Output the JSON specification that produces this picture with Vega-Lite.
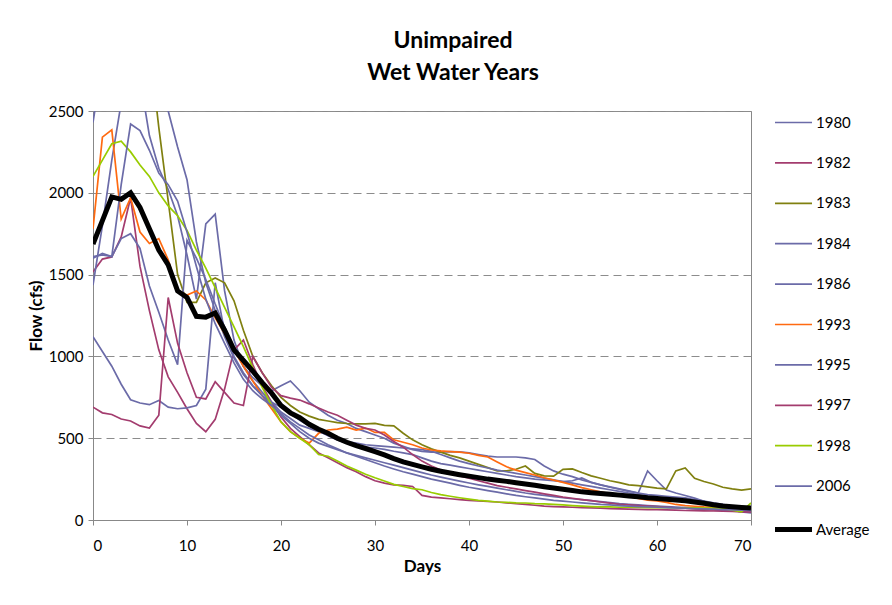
{
"$schema":"https://vega.github.io/schema/vega-lite/v6.json",
"width":658,"height":409,
"autosize":{"type":"none"},
"padding":{"left":93,"top":111,"right":141,"bottom":85},
"background":"white",
"title":{"text":["Unimpaired","Wet Water Years"],"anchor":"middle","dx":31,"offset":19,"fontSize":23,"font":"Lato","fontWeight":"bold","lineHeight":32,"color":"black"},
"data":{"values":[
{"s":"1980","d":0,"v":2430},{"s":"1980","d":1,"v":2800},{"s":"1980","d":2,"v":3000},{"s":"1980","d":3,"v":3100},{"s":"1980","d":4,"v":3000},{"s":"1980","d":5,"v":2700},{"s":"1980","d":6,"v":2350},{"s":"1980","d":7,"v":2150},{"s":"1980","d":8,"v":2020},{"s":"1980","d":9,"v":1860},
{"s":"1980","d":10,"v":1620},{"s":"1980","d":11,"v":1350},{"s":"1980","d":12,"v":1810},{"s":"1980","d":13,"v":1870},{"s":"1980","d":14,"v":1400},{"s":"1980","d":15,"v":1100},{"s":"1980","d":16,"v":940},{"s":"1980","d":17,"v":870},{"s":"1980","d":18,"v":820},{"s":"1980","d":19,"v":790},
{"s":"1980","d":20,"v":820},{"s":"1980","d":21,"v":850},{"s":"1980","d":22,"v":790},{"s":"1980","d":23,"v":720},{"s":"1980","d":24,"v":680},{"s":"1980","d":25,"v":640},{"s":"1980","d":26,"v":610},{"s":"1980","d":27,"v":590},{"s":"1980","d":28,"v":560},{"s":"1980","d":29,"v":540},
{"s":"1980","d":30,"v":520},{"s":"1980","d":31,"v":500},{"s":"1980","d":32,"v":470},{"s":"1980","d":33,"v":450},{"s":"1980","d":34,"v":430},{"s":"1980","d":35,"v":420},{"s":"1980","d":36,"v":415},{"s":"1980","d":37,"v":415},{"s":"1980","d":38,"v":418},{"s":"1980","d":39,"v":416},
{"s":"1980","d":40,"v":410},{"s":"1980","d":41,"v":400},{"s":"1980","d":42,"v":390},{"s":"1980","d":43,"v":385},{"s":"1980","d":44,"v":385},{"s":"1980","d":45,"v":385},{"s":"1980","d":46,"v":380},{"s":"1980","d":47,"v":370},{"s":"1980","d":48,"v":330},{"s":"1980","d":49,"v":300},
{"s":"1980","d":50,"v":280},{"s":"1980","d":51,"v":265},{"s":"1980","d":52,"v":245},{"s":"1980","d":53,"v":230},{"s":"1980","d":54,"v":215},{"s":"1980","d":55,"v":202},{"s":"1980","d":56,"v":190},{"s":"1980","d":57,"v":178},{"s":"1980","d":58,"v":165},{"s":"1980","d":59,"v":300},
{"s":"1980","d":60,"v":240},{"s":"1980","d":61,"v":183},{"s":"1980","d":62,"v":165},{"s":"1980","d":63,"v":150},{"s":"1980","d":64,"v":134},{"s":"1980","d":65,"v":115},{"s":"1980","d":66,"v":95},{"s":"1980","d":67,"v":73},{"s":"1980","d":68,"v":60},{"s":"1980","d":69,"v":50},{"s":"1980","d":70,"v":43},
{"s":"1982","d":0,"v":1516},{"s":"1982","d":1,"v":1595},{"s":"1982","d":2,"v":1608},{"s":"1982","d":3,"v":1730},{"s":"1982","d":4,"v":1970},{"s":"1982","d":5,"v":1550},{"s":"1982","d":6,"v":1280},{"s":"1982","d":7,"v":1040},{"s":"1982","d":8,"v":875},{"s":"1982","d":9,"v":780},
{"s":"1982","d":10,"v":680},{"s":"1982","d":11,"v":590},{"s":"1982","d":12,"v":540},{"s":"1982","d":13,"v":615},{"s":"1982","d":14,"v":800},{"s":"1982","d":15,"v":1040},{"s":"1982","d":16,"v":1100},{"s":"1982","d":17,"v":950},{"s":"1982","d":18,"v":820},{"s":"1982","d":19,"v":720},
{"s":"1982","d":20,"v":630},{"s":"1982","d":21,"v":560},{"s":"1982","d":22,"v":510},{"s":"1982","d":23,"v":460},{"s":"1982","d":24,"v":410},{"s":"1982","d":25,"v":380},{"s":"1982","d":26,"v":350},{"s":"1982","d":27,"v":320},{"s":"1982","d":28,"v":295},{"s":"1982","d":29,"v":265},
{"s":"1982","d":30,"v":240},{"s":"1982","d":31,"v":225},{"s":"1982","d":32,"v":215},{"s":"1982","d":33,"v":212},{"s":"1982","d":34,"v":205},{"s":"1982","d":35,"v":150},{"s":"1982","d":36,"v":140},{"s":"1982","d":37,"v":135},{"s":"1982","d":38,"v":130},{"s":"1982","d":39,"v":125},
{"s":"1982","d":40,"v":120},{"s":"1982","d":41,"v":117},{"s":"1982","d":42,"v":113},{"s":"1982","d":43,"v":110},{"s":"1982","d":44,"v":105},{"s":"1982","d":45,"v":100},{"s":"1982","d":46,"v":95},{"s":"1982","d":47,"v":90},{"s":"1982","d":48,"v":85},{"s":"1982","d":49,"v":82},
{"s":"1982","d":50,"v":80},{"s":"1982","d":51,"v":78},{"s":"1982","d":52,"v":76},{"s":"1982","d":53,"v":74},{"s":"1982","d":54,"v":72},{"s":"1982","d":55,"v":70},{"s":"1982","d":56,"v":68},{"s":"1982","d":57,"v":66},{"s":"1982","d":58,"v":65},{"s":"1982","d":59,"v":64},
{"s":"1982","d":60,"v":63},{"s":"1982","d":61,"v":62},{"s":"1982","d":62,"v":60},{"s":"1982","d":63,"v":58},{"s":"1982","d":64,"v":57},{"s":"1982","d":65,"v":56},{"s":"1982","d":66,"v":55},{"s":"1982","d":67,"v":54},{"s":"1982","d":68,"v":52},{"s":"1982","d":69,"v":50},{"s":"1982","d":70,"v":50},
{"s":"1983","d":0,"v":3200},{"s":"1983","d":1,"v":3600},{"s":"1983","d":2,"v":3900},{"s":"1983","d":3,"v":4000},{"s":"1983","d":4,"v":3800},{"s":"1983","d":5,"v":3400},{"s":"1983","d":6,"v":2900},{"s":"1983","d":7,"v":2400},{"s":"1983","d":8,"v":1950},{"s":"1983","d":9,"v":1500},
{"s":"1983","d":10,"v":1330},{"s":"1983","d":11,"v":1330},{"s":"1983","d":12,"v":1450},{"s":"1983","d":13,"v":1480},{"s":"1983","d":14,"v":1450},{"s":"1983","d":15,"v":1340},{"s":"1983","d":16,"v":1160},{"s":"1983","d":17,"v":1000},{"s":"1983","d":18,"v":900},{"s":"1983","d":19,"v":820},
{"s":"1983","d":20,"v":750},{"s":"1983","d":21,"v":700},{"s":"1983","d":22,"v":660},{"s":"1983","d":23,"v":635},{"s":"1983","d":24,"v":615},{"s":"1983","d":25,"v":605},{"s":"1983","d":26,"v":595},{"s":"1983","d":27,"v":590},{"s":"1983","d":28,"v":588},{"s":"1983","d":29,"v":587},
{"s":"1983","d":30,"v":590},{"s":"1983","d":31,"v":578},{"s":"1983","d":32,"v":575},{"s":"1983","d":33,"v":530},{"s":"1983","d":34,"v":490},{"s":"1983","d":35,"v":460},{"s":"1983","d":36,"v":435},{"s":"1983","d":37,"v":415},{"s":"1983","d":38,"v":395},{"s":"1983","d":39,"v":380},
{"s":"1983","d":40,"v":360},{"s":"1983","d":41,"v":340},{"s":"1983","d":42,"v":320},{"s":"1983","d":43,"v":300},{"s":"1983","d":44,"v":300},{"s":"1983","d":45,"v":310},{"s":"1983","d":46,"v":330},{"s":"1983","d":47,"v":285},{"s":"1983","d":48,"v":270},{"s":"1983","d":49,"v":268},
{"s":"1983","d":50,"v":310},{"s":"1983","d":51,"v":312},{"s":"1983","d":52,"v":290},{"s":"1983","d":53,"v":270},{"s":"1983","d":54,"v":255},{"s":"1983","d":55,"v":240},{"s":"1983","d":56,"v":228},{"s":"1983","d":57,"v":215},{"s":"1983","d":58,"v":210},{"s":"1983","d":59,"v":203},
{"s":"1983","d":60,"v":195},{"s":"1983","d":61,"v":190},{"s":"1983","d":62,"v":300},{"s":"1983","d":63,"v":318},{"s":"1983","d":64,"v":255},{"s":"1983","d":65,"v":235},{"s":"1983","d":66,"v":220},{"s":"1983","d":67,"v":200},{"s":"1983","d":68,"v":190},{"s":"1983","d":69,"v":183},{"s":"1983","d":70,"v":190},
{"s":"1984","d":0,"v":1436},{"s":"1984","d":1,"v":1800},{"s":"1984","d":2,"v":2200},{"s":"1984","d":3,"v":2550},{"s":"1984","d":4,"v":2800},{"s":"1984","d":5,"v":3000},{"s":"1984","d":6,"v":3000},{"s":"1984","d":7,"v":2800},{"s":"1984","d":8,"v":2500},{"s":"1984","d":9,"v":2280},
{"s":"1984","d":10,"v":2080},{"s":"1984","d":11,"v":1700},{"s":"1984","d":12,"v":1450},{"s":"1984","d":13,"v":1280},{"s":"1984","d":14,"v":1120},{"s":"1984","d":15,"v":990},{"s":"1984","d":16,"v":890},{"s":"1984","d":17,"v":820},{"s":"1984","d":18,"v":760},{"s":"1984","d":19,"v":720},
{"s":"1984","d":20,"v":690},{"s":"1984","d":21,"v":650},{"s":"1984","d":22,"v":610},{"s":"1984","d":23,"v":575},{"s":"1984","d":24,"v":545},{"s":"1984","d":25,"v":515},{"s":"1984","d":26,"v":490},{"s":"1984","d":27,"v":470},{"s":"1984","d":28,"v":455},{"s":"1984","d":29,"v":445},
{"s":"1984","d":30,"v":440},{"s":"1984","d":31,"v":432},{"s":"1984","d":32,"v":420},{"s":"1984","d":33,"v":410},{"s":"1984","d":34,"v":400},{"s":"1984","d":35,"v":380},{"s":"1984","d":36,"v":360},{"s":"1984","d":37,"v":345},{"s":"1984","d":38,"v":335},{"s":"1984","d":39,"v":325},
{"s":"1984","d":40,"v":315},{"s":"1984","d":41,"v":305},{"s":"1984","d":42,"v":295},{"s":"1984","d":43,"v":285},{"s":"1984","d":44,"v":275},{"s":"1984","d":45,"v":265},{"s":"1984","d":46,"v":258},{"s":"1984","d":47,"v":250},{"s":"1984","d":48,"v":245},{"s":"1984","d":49,"v":240},
{"s":"1984","d":50,"v":235},{"s":"1984","d":51,"v":240},{"s":"1984","d":52,"v":257},{"s":"1984","d":53,"v":230},{"s":"1984","d":54,"v":215},{"s":"1984","d":55,"v":200},{"s":"1984","d":56,"v":188},{"s":"1984","d":57,"v":175},{"s":"1984","d":58,"v":165},{"s":"1984","d":59,"v":155},
{"s":"1984","d":60,"v":150},{"s":"1984","d":61,"v":145},{"s":"1984","d":62,"v":140},{"s":"1984","d":63,"v":135},{"s":"1984","d":64,"v":125},{"s":"1984","d":65,"v":115},{"s":"1984","d":66,"v":105},{"s":"1984","d":67,"v":95},{"s":"1984","d":68,"v":85},{"s":"1984","d":69,"v":75},{"s":"1984","d":70,"v":70},
{"s":"1986","d":0,"v":1600},{"s":"1986","d":1,"v":1630},{"s":"1986","d":2,"v":1610},{"s":"1986","d":3,"v":1720},{"s":"1986","d":4,"v":1750},{"s":"1986","d":5,"v":1660},{"s":"1986","d":6,"v":1430},{"s":"1986","d":7,"v":1270},{"s":"1986","d":8,"v":1100},{"s":"1986","d":9,"v":950},
{"s":"1986","d":10,"v":1710},{"s":"1986","d":11,"v":1600},{"s":"1986","d":12,"v":1470},{"s":"1986","d":13,"v":1320},{"s":"1986","d":14,"v":1180},{"s":"1986","d":15,"v":1050},{"s":"1986","d":16,"v":940},{"s":"1986","d":17,"v":850},{"s":"1986","d":18,"v":780},{"s":"1986","d":19,"v":720},
{"s":"1986","d":20,"v":660},{"s":"1986","d":21,"v":620},{"s":"1986","d":22,"v":580},{"s":"1986","d":23,"v":560},{"s":"1986","d":24,"v":540},{"s":"1986","d":25,"v":520},{"s":"1986","d":26,"v":500},{"s":"1986","d":27,"v":480},{"s":"1986","d":28,"v":470},{"s":"1986","d":29,"v":460},
{"s":"1986","d":30,"v":455},{"s":"1986","d":31,"v":450},{"s":"1986","d":32,"v":445},{"s":"1986","d":33,"v":440},{"s":"1986","d":34,"v":435},{"s":"1986","d":35,"v":430},{"s":"1986","d":36,"v":420},{"s":"1986","d":37,"v":400},{"s":"1986","d":38,"v":380},{"s":"1986","d":39,"v":360},
{"s":"1986","d":40,"v":345},{"s":"1986","d":41,"v":330},{"s":"1986","d":42,"v":318},{"s":"1986","d":43,"v":305},{"s":"1986","d":44,"v":295},{"s":"1986","d":45,"v":285},{"s":"1986","d":46,"v":275},{"s":"1986","d":47,"v":265},{"s":"1986","d":48,"v":255},{"s":"1986","d":49,"v":245},
{"s":"1986","d":50,"v":235},{"s":"1986","d":51,"v":225},{"s":"1986","d":52,"v":215},{"s":"1986","d":53,"v":205},{"s":"1986","d":54,"v":195},{"s":"1986","d":55,"v":185},{"s":"1986","d":56,"v":175},{"s":"1986","d":57,"v":165},{"s":"1986","d":58,"v":155},{"s":"1986","d":59,"v":145},
{"s":"1986","d":60,"v":135},{"s":"1986","d":61,"v":128},{"s":"1986","d":62,"v":120},{"s":"1986","d":63,"v":112},{"s":"1986","d":64,"v":105},{"s":"1986","d":65,"v":98},{"s":"1986","d":66,"v":92},{"s":"1986","d":67,"v":86},{"s":"1986","d":68,"v":80},{"s":"1986","d":69,"v":75},{"s":"1986","d":70,"v":70},
{"s":"1993","d":0,"v":1780},{"s":"1993","d":1,"v":2340},{"s":"1993","d":2,"v":2385},{"s":"1993","d":3,"v":1840},{"s":"1993","d":4,"v":1970},{"s":"1993","d":5,"v":1760},{"s":"1993","d":6,"v":1690},{"s":"1993","d":7,"v":1720},{"s":"1993","d":8,"v":1590},{"s":"1993","d":9,"v":1400},
{"s":"1993","d":10,"v":1375},{"s":"1993","d":11,"v":1400},{"s":"1993","d":12,"v":1345},{"s":"1993","d":13,"v":1235},{"s":"1993","d":14,"v":1140},{"s":"1993","d":15,"v":1040},{"s":"1993","d":16,"v":940},{"s":"1993","d":17,"v":850},{"s":"1993","d":18,"v":760},{"s":"1993","d":19,"v":680},
{"s":"1993","d":20,"v":600},{"s":"1993","d":21,"v":540},{"s":"1993","d":22,"v":500},{"s":"1993","d":23,"v":470},{"s":"1993","d":24,"v":530},{"s":"1993","d":25,"v":550},{"s":"1993","d":26,"v":555},{"s":"1993","d":27,"v":568},{"s":"1993","d":28,"v":550},{"s":"1993","d":29,"v":562},
{"s":"1993","d":30,"v":535},{"s":"1993","d":31,"v":535},{"s":"1993","d":32,"v":490},{"s":"1993","d":33,"v":475},{"s":"1993","d":34,"v":460},{"s":"1993","d":35,"v":440},{"s":"1993","d":36,"v":428},{"s":"1993","d":37,"v":422},{"s":"1993","d":38,"v":418},{"s":"1993","d":39,"v":415},
{"s":"1993","d":40,"v":408},{"s":"1993","d":41,"v":395},{"s":"1993","d":42,"v":385},{"s":"1993","d":43,"v":355},{"s":"1993","d":44,"v":325},{"s":"1993","d":45,"v":305},{"s":"1993","d":46,"v":290},{"s":"1993","d":47,"v":275},{"s":"1993","d":48,"v":258},{"s":"1993","d":49,"v":244},
{"s":"1993","d":50,"v":230},{"s":"1993","d":51,"v":215},{"s":"1993","d":52,"v":198},{"s":"1993","d":53,"v":185},{"s":"1993","d":54,"v":172},{"s":"1993","d":55,"v":160},{"s":"1993","d":56,"v":153},{"s":"1993","d":57,"v":142},{"s":"1993","d":58,"v":132},{"s":"1993","d":59,"v":122},
{"s":"1993","d":60,"v":116},{"s":"1993","d":61,"v":108},{"s":"1993","d":62,"v":95},{"s":"1993","d":63,"v":88},{"s":"1993","d":64,"v":84},{"s":"1993","d":65,"v":80},{"s":"1993","d":66,"v":78},{"s":"1993","d":67,"v":76},{"s":"1993","d":68,"v":75},{"s":"1993","d":69,"v":74},{"s":"1993","d":70,"v":73},
{"s":"1995","d":0,"v":1120},{"s":"1995","d":1,"v":1030},{"s":"1995","d":2,"v":940},{"s":"1995","d":3,"v":830},{"s":"1995","d":4,"v":735},{"s":"1995","d":5,"v":715},{"s":"1995","d":6,"v":705},{"s":"1995","d":7,"v":730},{"s":"1995","d":8,"v":690},{"s":"1995","d":9,"v":680},
{"s":"1995","d":10,"v":685},{"s":"1995","d":11,"v":700},{"s":"1995","d":12,"v":800},{"s":"1995","d":13,"v":1450},{"s":"1995","d":14,"v":1150},{"s":"1995","d":15,"v":1000},{"s":"1995","d":16,"v":900},{"s":"1995","d":17,"v":820},{"s":"1995","d":18,"v":760},{"s":"1995","d":19,"v":700},
{"s":"1995","d":20,"v":640},{"s":"1995","d":21,"v":590},{"s":"1995","d":22,"v":540},{"s":"1995","d":23,"v":500},{"s":"1995","d":24,"v":470},{"s":"1995","d":25,"v":450},{"s":"1995","d":26,"v":430},{"s":"1995","d":27,"v":410},{"s":"1995","d":28,"v":395},{"s":"1995","d":29,"v":380},
{"s":"1995","d":30,"v":365},{"s":"1995","d":31,"v":350},{"s":"1995","d":32,"v":335},{"s":"1995","d":33,"v":320},{"s":"1995","d":34,"v":305},{"s":"1995","d":35,"v":290},{"s":"1995","d":36,"v":275},{"s":"1995","d":37,"v":262},{"s":"1995","d":38,"v":250},{"s":"1995","d":39,"v":238},
{"s":"1995","d":40,"v":226},{"s":"1995","d":41,"v":215},{"s":"1995","d":42,"v":205},{"s":"1995","d":43,"v":195},{"s":"1995","d":44,"v":185},{"s":"1995","d":45,"v":175},{"s":"1995","d":46,"v":165},{"s":"1995","d":47,"v":157},{"s":"1995","d":48,"v":150},{"s":"1995","d":49,"v":143},
{"s":"1995","d":50,"v":136},{"s":"1995","d":51,"v":130},{"s":"1995","d":52,"v":124},{"s":"1995","d":53,"v":118},{"s":"1995","d":54,"v":112},{"s":"1995","d":55,"v":106},{"s":"1995","d":56,"v":100},{"s":"1995","d":57,"v":96},{"s":"1995","d":58,"v":92},{"s":"1995","d":59,"v":88},
{"s":"1995","d":60,"v":85},{"s":"1995","d":61,"v":82},{"s":"1995","d":62,"v":79},{"s":"1995","d":63,"v":76},{"s":"1995","d":64,"v":73},{"s":"1995","d":65,"v":70},{"s":"1995","d":66,"v":67},{"s":"1995","d":67,"v":64},{"s":"1995","d":68,"v":60},{"s":"1995","d":69,"v":55},{"s":"1995","d":70,"v":52},
{"s":"1997","d":0,"v":690},{"s":"1997","d":1,"v":655},{"s":"1997","d":2,"v":645},{"s":"1997","d":3,"v":617},{"s":"1997","d":4,"v":605},{"s":"1997","d":5,"v":575},{"s":"1997","d":6,"v":562},{"s":"1997","d":7,"v":640},{"s":"1997","d":8,"v":1360},{"s":"1997","d":9,"v":1080},
{"s":"1997","d":10,"v":900},{"s":"1997","d":11,"v":750},{"s":"1997","d":12,"v":740},{"s":"1997","d":13,"v":845},{"s":"1997","d":14,"v":780},{"s":"1997","d":15,"v":715},{"s":"1997","d":16,"v":700},{"s":"1997","d":17,"v":1000},{"s":"1997","d":18,"v":900},{"s":"1997","d":19,"v":810},
{"s":"1997","d":20,"v":760},{"s":"1997","d":21,"v":745},{"s":"1997","d":22,"v":733},{"s":"1997","d":23,"v":710},{"s":"1997","d":24,"v":685},{"s":"1997","d":25,"v":660},{"s":"1997","d":26,"v":640},{"s":"1997","d":27,"v":610},{"s":"1997","d":28,"v":580},{"s":"1997","d":29,"v":560},
{"s":"1997","d":30,"v":550},{"s":"1997","d":31,"v":520},{"s":"1997","d":32,"v":480},{"s":"1997","d":33,"v":445},{"s":"1997","d":34,"v":400},{"s":"1997","d":35,"v":360},{"s":"1997","d":36,"v":330},{"s":"1997","d":37,"v":305},{"s":"1997","d":38,"v":285},{"s":"1997","d":39,"v":270},
{"s":"1997","d":40,"v":255},{"s":"1997","d":41,"v":240},{"s":"1997","d":42,"v":225},{"s":"1997","d":43,"v":210},{"s":"1997","d":44,"v":200},{"s":"1997","d":45,"v":190},{"s":"1997","d":46,"v":180},{"s":"1997","d":47,"v":170},{"s":"1997","d":48,"v":160},{"s":"1997","d":49,"v":150},
{"s":"1997","d":50,"v":140},{"s":"1997","d":51,"v":133},{"s":"1997","d":52,"v":125},{"s":"1997","d":53,"v":118},{"s":"1997","d":54,"v":110},{"s":"1997","d":55,"v":103},{"s":"1997","d":56,"v":95},{"s":"1997","d":57,"v":92},{"s":"1997","d":58,"v":88},{"s":"1997","d":59,"v":85},
{"s":"1997","d":60,"v":82},{"s":"1997","d":61,"v":78},{"s":"1997","d":62,"v":75},{"s":"1997","d":63,"v":72},{"s":"1997","d":64,"v":68},{"s":"1997","d":65,"v":65},{"s":"1997","d":66,"v":62},{"s":"1997","d":67,"v":58},{"s":"1997","d":68,"v":55},{"s":"1997","d":69,"v":52},{"s":"1997","d":70,"v":49},
{"s":"1998","d":0,"v":2100},{"s":"1998","d":1,"v":2200},{"s":"1998","d":2,"v":2300},{"s":"1998","d":3,"v":2316},{"s":"1998","d":4,"v":2250},{"s":"1998","d":5,"v":2170},{"s":"1998","d":6,"v":2100},{"s":"1998","d":7,"v":2000},{"s":"1998","d":8,"v":1920},{"s":"1998","d":9,"v":1860},
{"s":"1998","d":10,"v":1770},{"s":"1998","d":11,"v":1650},{"s":"1998","d":12,"v":1540},{"s":"1998","d":13,"v":1420},{"s":"1998","d":14,"v":1300},{"s":"1998","d":15,"v":1180},{"s":"1998","d":16,"v":1060},{"s":"1998","d":17,"v":930},{"s":"1998","d":18,"v":810},{"s":"1998","d":19,"v":700},
{"s":"1998","d":20,"v":600},{"s":"1998","d":21,"v":540},{"s":"1998","d":22,"v":500},{"s":"1998","d":23,"v":460},{"s":"1998","d":24,"v":400},{"s":"1998","d":25,"v":390},{"s":"1998","d":26,"v":360},{"s":"1998","d":27,"v":330},{"s":"1998","d":28,"v":305},{"s":"1998","d":29,"v":280},
{"s":"1998","d":30,"v":258},{"s":"1998","d":31,"v":238},{"s":"1998","d":32,"v":218},{"s":"1998","d":33,"v":205},{"s":"1998","d":34,"v":192},{"s":"1998","d":35,"v":185},{"s":"1998","d":36,"v":168},{"s":"1998","d":37,"v":155},{"s":"1998","d":38,"v":145},{"s":"1998","d":39,"v":136},
{"s":"1998","d":40,"v":128},{"s":"1998","d":41,"v":120},{"s":"1998","d":42,"v":115},{"s":"1998","d":43,"v":110},{"s":"1998","d":44,"v":108},{"s":"1998","d":45,"v":105},{"s":"1998","d":46,"v":104},{"s":"1998","d":47,"v":100},{"s":"1998","d":48,"v":98},{"s":"1998","d":49,"v":95},
{"s":"1998","d":50,"v":92},{"s":"1998","d":51,"v":88},{"s":"1998","d":52,"v":85},{"s":"1998","d":53,"v":82},{"s":"1998","d":54,"v":80},{"s":"1998","d":55,"v":80},{"s":"1998","d":56,"v":78},{"s":"1998","d":57,"v":78},{"s":"1998","d":58,"v":77},{"s":"1998","d":59,"v":76},
{"s":"1998","d":60,"v":76},{"s":"1998","d":61,"v":75},{"s":"1998","d":62,"v":75},{"s":"1998","d":63,"v":74},{"s":"1998","d":64,"v":74},{"s":"1998","d":65,"v":73},{"s":"1998","d":66,"v":73},{"s":"1998","d":67,"v":70},{"s":"1998","d":68,"v":60},{"s":"1998","d":69,"v":50},{"s":"1998","d":70,"v":104},
{"s":"2006","d":0,"v":1610},{"s":"2006","d":1,"v":1620},{"s":"2006","d":2,"v":1610},{"s":"2006","d":3,"v":2050},{"s":"2006","d":4,"v":2420},{"s":"2006","d":5,"v":2380},{"s":"2006","d":6,"v":2260},{"s":"2006","d":7,"v":2120},{"s":"2006","d":8,"v":2050},{"s":"2006","d":9,"v":1950},
{"s":"2006","d":10,"v":1760},{"s":"2006","d":11,"v":1550},{"s":"2006","d":12,"v":1350},{"s":"2006","d":13,"v":1200},{"s":"2006","d":14,"v":1080},{"s":"2006","d":15,"v":960},{"s":"2006","d":16,"v":860},{"s":"2006","d":17,"v":790},{"s":"2006","d":18,"v":740},{"s":"2006","d":19,"v":700},
{"s":"2006","d":20,"v":650},{"s":"2006","d":21,"v":600},{"s":"2006","d":22,"v":560},{"s":"2006","d":23,"v":520},{"s":"2006","d":24,"v":490},{"s":"2006","d":25,"v":460},{"s":"2006","d":26,"v":435},{"s":"2006","d":27,"v":410},{"s":"2006","d":28,"v":390},{"s":"2006","d":29,"v":370},
{"s":"2006","d":30,"v":350},{"s":"2006","d":31,"v":330},{"s":"2006","d":32,"v":312},{"s":"2006","d":33,"v":295},{"s":"2006","d":34,"v":280},{"s":"2006","d":35,"v":265},{"s":"2006","d":36,"v":250},{"s":"2006","d":37,"v":238},{"s":"2006","d":38,"v":225},{"s":"2006","d":39,"v":212},
{"s":"2006","d":40,"v":200},{"s":"2006","d":41,"v":190},{"s":"2006","d":42,"v":180},{"s":"2006","d":43,"v":170},{"s":"2006","d":44,"v":160},{"s":"2006","d":45,"v":150},{"s":"2006","d":46,"v":142},{"s":"2006","d":47,"v":135},{"s":"2006","d":48,"v":128},{"s":"2006","d":49,"v":120},
{"s":"2006","d":50,"v":115},{"s":"2006","d":51,"v":110},{"s":"2006","d":52,"v":105},{"s":"2006","d":53,"v":100},{"s":"2006","d":54,"v":95},{"s":"2006","d":55,"v":92},{"s":"2006","d":56,"v":88},{"s":"2006","d":57,"v":85},{"s":"2006","d":58,"v":82},{"s":"2006","d":59,"v":80},
{"s":"2006","d":60,"v":78},{"s":"2006","d":61,"v":76},{"s":"2006","d":62,"v":74},{"s":"2006","d":63,"v":72},{"s":"2006","d":64,"v":70},{"s":"2006","d":65,"v":68},{"s":"2006","d":66,"v":66},{"s":"2006","d":67,"v":64},{"s":"2006","d":68,"v":62},{"s":"2006","d":69,"v":60},{"s":"2006","d":70,"v":58},
{"s":"Average","d":0,"v":1687},{"s":"Average","d":1,"v":1830},{"s":"Average","d":2,"v":1975},{"s":"Average","d":3,"v":1960},{"s":"Average","d":4,"v":2000},{"s":"Average","d":5,"v":1910},{"s":"Average","d":6,"v":1780},{"s":"Average","d":7,"v":1650},{"s":"Average","d":8,"v":1560},{"s":"Average","d":9,"v":1400},
{"s":"Average","d":10,"v":1360},{"s":"Average","d":11,"v":1245},{"s":"Average","d":12,"v":1240},{"s":"Average","d":13,"v":1265},{"s":"Average","d":14,"v":1160},{"s":"Average","d":15,"v":1040},{"s":"Average","d":16,"v":975},{"s":"Average","d":17,"v":910},{"s":"Average","d":18,"v":840},{"s":"Average","d":19,"v":775},
{"s":"Average","d":20,"v":700},{"s":"Average","d":21,"v":655},{"s":"Average","d":22,"v":625},{"s":"Average","d":23,"v":585},{"s":"Average","d":24,"v":555},{"s":"Average","d":25,"v":530},{"s":"Average","d":26,"v":500},{"s":"Average","d":27,"v":475},{"s":"Average","d":28,"v":455},{"s":"Average","d":29,"v":437},
{"s":"Average","d":30,"v":418},{"s":"Average","d":31,"v":398},{"s":"Average","d":32,"v":375},{"s":"Average","d":33,"v":355},{"s":"Average","d":34,"v":340},{"s":"Average","d":35,"v":325},{"s":"Average","d":36,"v":310},{"s":"Average","d":37,"v":298},{"s":"Average","d":38,"v":287},{"s":"Average","d":39,"v":277},
{"s":"Average","d":40,"v":268},{"s":"Average","d":41,"v":259},{"s":"Average","d":42,"v":250},{"s":"Average","d":43,"v":243},{"s":"Average","d":44,"v":236},{"s":"Average","d":45,"v":228},{"s":"Average","d":46,"v":220},{"s":"Average","d":47,"v":212},{"s":"Average","d":48,"v":203},{"s":"Average","d":49,"v":195},
{"s":"Average","d":50,"v":188},{"s":"Average","d":51,"v":180},{"s":"Average","d":52,"v":172},{"s":"Average","d":53,"v":167},{"s":"Average","d":54,"v":162},{"s":"Average","d":55,"v":157},{"s":"Average","d":56,"v":152},{"s":"Average","d":57,"v":147},{"s":"Average","d":58,"v":142},{"s":"Average","d":59,"v":136},
{"s":"Average","d":60,"v":132},{"s":"Average","d":61,"v":127},{"s":"Average","d":62,"v":122},{"s":"Average","d":63,"v":117},{"s":"Average","d":64,"v":110},{"s":"Average","d":65,"v":102},{"s":"Average","d":66,"v":93},{"s":"Average","d":67,"v":86},{"s":"Average","d":68,"v":81},{"s":"Average","d":69,"v":77},{"s":"Average","d":70,"v":74}
]},
"mark":{"type":"line","clip":true},
"encoding":{
"x":{"field":"d","type":"quantitative","scale":{"domain":[0,70],"nice":false},
"axis":{"title":"Days","values":[0,10,20,30,40,50,60,70],"grid":false,"tickSize":5,"tickColor":"#888","domainColor":"#888","labelFont":"Lato","labelFontSize":15,"labelColor":"black","labelPadding":13,"titleFont":"Lato","titleFontSize":17,"titleFontWeight":"bold","titleColor":"black","titlePadding":5}},
"y":{"field":"v","type":"quantitative","scale":{"domain":[0,2500],"nice":false},
"axis":{"title":"Flow (cfs)","format":"d","values":[0,500,1000,1500,2000,2500],"grid":true,"gridDash":[8,5],"gridColor":"#8c8c8c","tickSize":5,"tickColor":"#888","domainColor":"#888","labelFont":"Lato","labelFontSize":15,"labelColor":"black","labelPadding":5,"titleFont":"Lato","titleFontSize":17,"titleFontWeight":"bold","titleColor":"black","titlePadding":3}},
"color":{"field":"s","type":"nominal","title":null,
"scale":{"domain":["1980","1982","1983","1984","1986","1993","1995","1997","1998","2006","Average"],
"range":["#6B6BA8","#A33C6E","#808010","#6B6BA8","#6B6BA8","#FF6A10","#6B6BA8","#A33C6E","#99CC00","#6B6BA8","#000000"]},
"legend":{"orient":"none","legendX":693,"legendY":4,"symbolType":"stroke","symbolSize":1369,"labelFont":"Lato","labelFontSize":15,"labelColor":"black","labelOffset":15,"rowPadding":24.4,"padding":0,
"encode":{"symbols":{"update":{"strokeWidth":{"signal":"datum.value === 'Average' ? 5 : 1.7"}}}}}},
"strokeWidth":{"condition":{"test":"datum.s === 'Average'","value":5},"value":1.7}
},
"config":{"view":{"stroke":"#888","strokeWidth":1},"axis":{"domainWidth":1}}
}
